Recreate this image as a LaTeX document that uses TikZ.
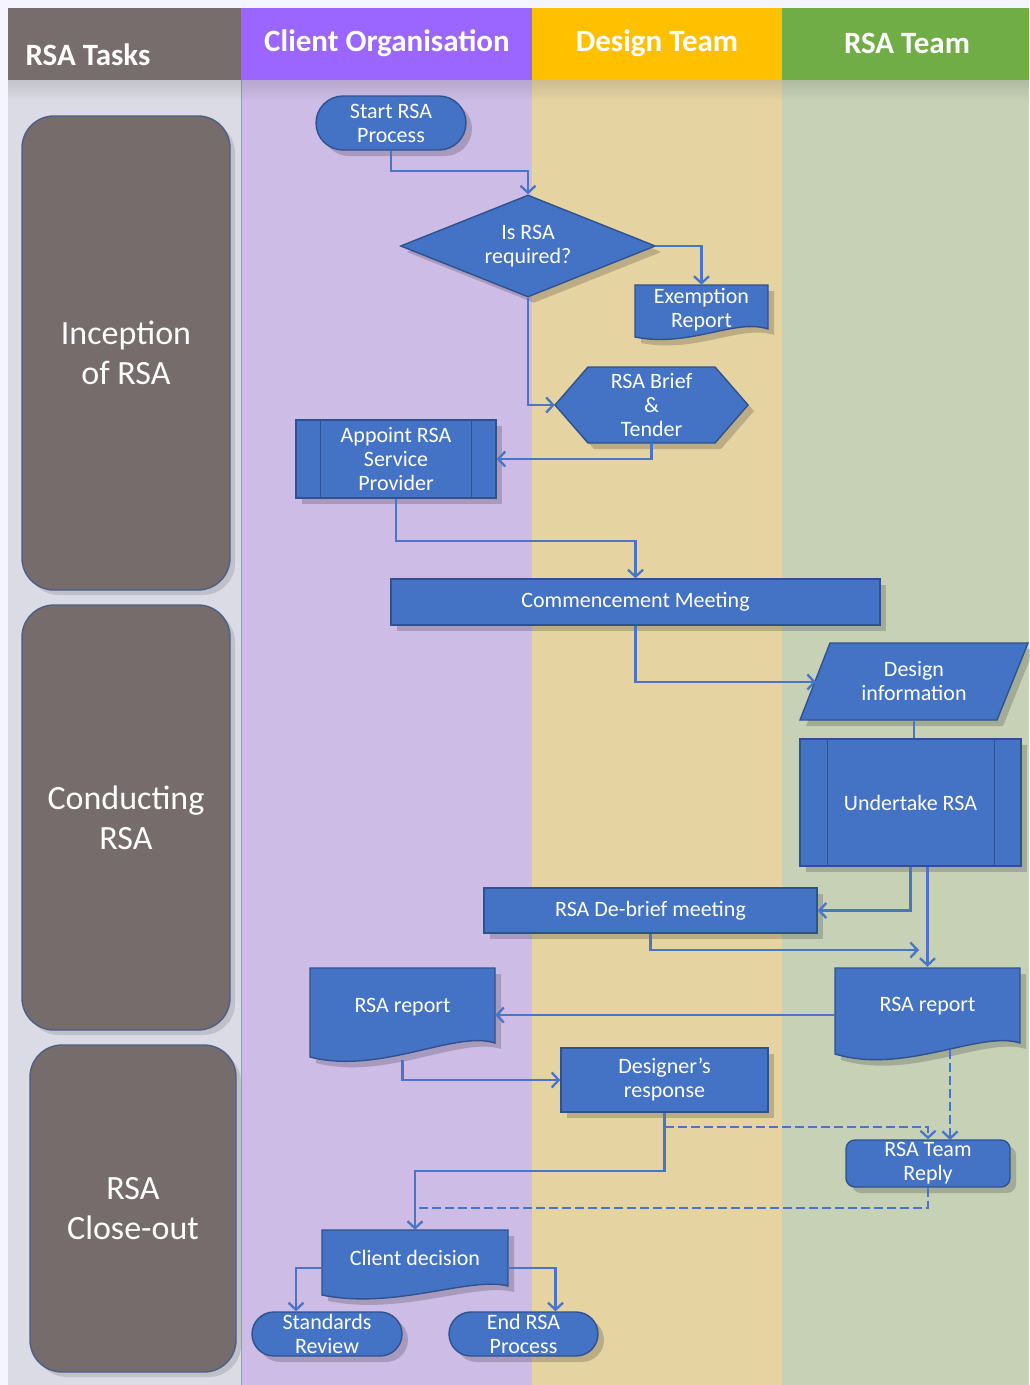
\documentclass[tikz,border=0pt]{standalone}
\usepackage{fontspec}
\setmainfont{Carlito}
\usetikzlibrary{arrows.meta,shapes.geometric,shapes.misc,shadows,calc}
\definecolor{nodeblue}{HTML}{4472C4}
\definecolor{nodeedge}{HTML}{2F528F}
\definecolor{linkblue}{HTML}{4A74C6}
\definecolor{hdgray}{HTML}{766D6C}
\definecolor{hdpurple}{HTML}{9A66FF}
\definecolor{hdyellow}{HTML}{FFC000}
\definecolor{hdgreen}{HTML}{70AD47}
\definecolor{bdgray}{HTML}{DADBE4}
\definecolor{bdpurple}{HTML}{CDBCE6}
\definecolor{bdtan}{HTML}{E5D3A2}
\definecolor{bdgreen}{HTML}{C6D1B6}
\definecolor{taskfill}{HTML}{756C6B}
\definecolor{taskedge}{HTML}{4C5F86}
\tikzset{
  shd/.style={drop shadow={shadow xshift=6pt,shadow yshift=-6pt,opacity=0.18,fill=black}},
  bluebox/.style={fill=nodeblue,draw=nodeedge,line width=1.4pt,text=white,align=center,inner sep=0pt,
     font=\fontsize{22}{24}\selectfont,shd},
  procbox/.style={bluebox,rectangle},
  termbox/.style={bluebox,rounded rectangle},
  decbox/.style={bluebox,diamond,aspect=2.5},
  txtbox/.style={text=white,align=center,inner sep=0pt,font=\fontsize{22}{24}\selectfont},
  shapefill/.style={fill=nodeblue,draw=nodeedge,line width=1.4pt,shd},
  innerline/.style={draw=nodeedge,line width=1.4pt},
  arr/.style={draw=linkblue,line width=2.3pt,-{Straight Barb[length=7pt,width=15pt]}},
  plain/.style={draw=linkblue,line width=2.3pt},
  dsh/.style={dash pattern=on 9pt off 4pt},
  hdr/.style={text=white,font=\fontsize{31}{34}\bfseries\selectfont,inner sep=0pt},
  taskbox/.style={fill=taskfill,draw=taskedge,line width=1.4pt,rounded corners=32pt,text=white,
     align=center,font=\fontsize{34}{40}\selectfont,inner sep=0pt,
     drop shadow={shadow xshift=5pt,shadow yshift=-5pt,opacity=0.12,fill=black}},
}
\begin{document}
\begin{tikzpicture}[x=1pt,y=-1pt]
\useasboundingbox (0,0) rectangle (1029,1385);
% backgrounds
\fill[white!96!blue] (0,0) rectangle (1029,1385);
\fill[bdgray] (8,80) rectangle (241,1385);
\fill[bdpurple] (241,80) rectangle (532,1385);
\fill[bdtan] (532,80) rectangle (782,1385);
\fill[bdgreen] (782,80) rectangle (1029,1385);
\draw[draw=taskedge!60,line width=1pt] (241,80) -- (241,1385);
% header shadow
\foreach \i in {0,...,9} {
  \fill[black,opacity={0.035*(10-\i)/10*3}] (8,80+2*\i) rectangle (1029,82+2*\i);
}
% header
\fill[hdgray] (8,8) rectangle (241,80);
\fill[hdpurple] (241,8) rectangle (532,80);
\fill[hdyellow] (532,8) rectangle (782,80);
\fill[hdgreen] (782,8) rectangle (1029,80);
\node[hdr] (hTasks) at (88,55) {RSA Tasks};
\node[hdr] (hClient) at (387,43) {Client Organisation};
\node[hdr] (hDesign) at (657,43) {Design Team};
\node[hdr] (hRSA) at (907,43) {RSA Team};
% task boxes
\node[taskbox,minimum width=208pt,minimum height=474pt] (tInc) at (126,353) {Inception\\of RSA};
\node[taskbox,minimum width=208pt,minimum height=425pt] (tCon) at (126,817.5) {Conducting\\RSA};
\node[taskbox,minimum width=206pt,minimum height=327pt] (tClo) at (133,1208.5) {RSA\\Close-out};

% ---- flow shapes ----
\node[termbox,minimum width=150pt,minimum height=54pt] (start) at (391,123) {Start RSA\\Process};
\node[decbox,minimum width=255pt,minimum height=102pt] (dec) at (528,246) {Is RSA\\required?};
% Exemption report (document)
\fill[shapefill] (635,285) -- (768,285) -- (768,329) .. controls (735,318) and (690,348) .. (635,337) -- cycle;
\node[txtbox,minimum width=133pt,minimum height=50pt] (exm) at (701.5,310) {Exemption\\Report};
% hexagon
\fill[shapefill] (555,405) -- (588,367) -- (715,367) -- (748,405) -- (715,443) -- (588,443) -- cycle;
\node[txtbox,minimum width=193pt,minimum height=76pt] (hex) at (651.5,405) {RSA Brief\\\&\\Tender};
% appoint (predefined process)
\node[procbox,minimum width=200pt,minimum height=78pt] (app) at (396,459) {Appoint RSA\\Service\\Provider};
\draw[innerline] ([xshift=25pt]app.north west) -- ([xshift=25pt]app.south west);
\draw[innerline] ([xshift=-25pt]app.north east) -- ([xshift=-25pt]app.south east);
% commencement
\node[procbox,minimum width=489pt,minimum height=46pt] (com) at (635.5,602) {Commencement Meeting};
% design info parallelogram
\fill[shapefill] (830,643) -- (1028,643) -- (997,720) -- (800,720) -- cycle;
\node[txtbox,minimum width=190pt,minimum height=77pt] (di) at (914,681.5) {Design\\information};
\coordinate (diL) at (816,682);
% undertake RSA
\node[procbox,minimum width=221pt,minimum height=127pt] (und) at (910.5,802.5) {Undertake RSA};
\draw[innerline] ([xshift=28pt]und.north west) -- ([xshift=28pt]und.south west);
\draw[innerline] ([xshift=-27pt]und.north east) -- ([xshift=-27pt]und.south east);
% debrief
\node[procbox,minimum width=333pt,minimum height=45pt] (deb) at (650.5,910.5) {RSA De-brief meeting};
% RSA report left (document)
\fill[shapefill] (310,968) -- (495,968) -- (495,1043) .. controls (455,1030) and (380,1075) .. (310,1057) -- cycle;
\node[txtbox,minimum width=185pt,minimum height=78pt] (rrL) at (402.5,1007) {RSA report};
% RSA report right (document)
\fill[shapefill] (835,968) -- (1020,968) -- (1020,1043) .. controls (980,1030) and (905,1075) .. (835,1054) -- cycle;
\node[txtbox,minimum width=185pt,minimum height=78pt] (rrR) at (927.5,1006) {RSA report};
% designer's response
\node[procbox,minimum width=207pt,minimum height=64pt] (dr) at (664.5,1080) {Designer’s\\response};
% RSA team reply
\node[procbox,rounded corners=9pt,minimum width=164pt,minimum height=47pt] (rtr) at (928,1163.5) {RSA Team\\Reply};
% client decision (document)
\fill[shapefill] (322,1230) -- (508,1230) -- (508,1286) .. controls (470,1276) and (395,1310) .. (322,1295) -- cycle;
\node[txtbox,minimum width=186pt,minimum height=56pt] (cd) at (415,1258) {Client decision};
% terminals
\node[termbox,minimum width=150pt,minimum height=44pt] (sr) at (327,1334) {Standards\\Review};
\node[termbox,minimum width=149pt,minimum height=44pt] (end) at (523.5,1334) {End RSA\\Process};

% ---- connectors ----
\draw[arr] (start.south) -- ++(0,20) -| (dec.north);
\draw[arr] (dec.east) -| (exm.north);
\draw[arr] (dec.south) |- (hex.west);
\draw[arr] (hex.south) |- (app.east);
\draw[arr] (app.south) -- ++(0,42) -| (com.north);
\draw[arr] (com.south) |- (diL);
\draw[plain] (di.south) -- (di.south |- und.north);
\draw[arr] (und.south) |- (deb.east);
\draw[arr] ([xshift=17pt]und.south) -- ([xshift=17pt]und.south |- rrR.north);
\coordinate (debEnd) at (919,950);
\draw[arr] (deb.south) |- (debEnd);
\coordinate (rrRw) at (835,1015);
\draw[arr] (rrRw) -- (rrRw -| rrL.east);
\coordinate (rrLs) at (402.5,1060);
\draw[arr] (rrLs) |- (dr.west);
\draw[arr] (dr.south) -- ++(0,58) -| (cd.north);
% dashed links
\coordinate (dsStart) at (664.5,1127);
\draw[arr,dsh] (dsStart) -| (rtr.north);
\coordinate (rtrN2) at (950,1140);
\draw[arr,dsh] (rtrN2 |- 0,1050) -- (rtrN2);
\coordinate (jn) at (415,1208);
\draw[plain,dsh] (rtr.south) |- (jn);
% client decision outcomes
\draw[arr] ([yshift=-10pt]cd.west) -| ([xshift=-31pt]sr.north);
\draw[arr] ([yshift=-10pt]cd.east) -| ([xshift=32pt]end.north);
\end{tikzpicture}
\end{document}
